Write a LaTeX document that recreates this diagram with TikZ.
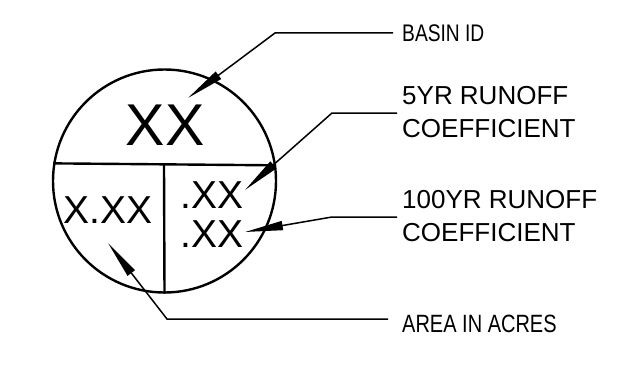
\documentclass[tikz,border=0pt]{standalone}
\usepackage{fontspec}
\setmainfont{Liberation Sans}
\newfontfamily\narrowfont{Liberation Sans}[FakeStretch=0.8]
\usetikzlibrary{arrows.meta}

\begin{document}
\begin{tikzpicture}[
    x=1pt, y=-1pt,
    ring/.style={circle, draw, line width=2.4pt, minimum size=223pt, inner sep=0pt},
    divider/.style={line width=2.4pt},
    val/.style={inner sep=0pt},
    lbl/.style={inner sep=0pt, align=left, font=\fontsize{26}{33}\selectfont},
    lead/.style={line width=1.5pt, -{Triangle[length=38pt, width=9pt]}}
]
\useasboundingbox (0,0) rectangle (624,369);

% Circle
\node[ring] (basin) at (164.5,181) {};
\coordinate (split) at (164,165);
\draw[divider] (basin.171.75) -- (basin.8.25);
\draw[divider] (split) -- (basin.south);

% Values
\node[val, anchor=base, font=\fontsize{59}{59}\selectfont] (idval) at (165,145) {XX};
\node[val, anchor=base west, font=\fontsize{39}{39}\selectfont] (areaval) at (63,223) {X.XX};
\node[val, anchor=base west, font=\fontsize{39}{39}\selectfont] (fiveval) at (180,208) {.XX};
\node[val, anchor=base west, font=\fontsize{39}{39}\selectfont] (hundredval) at (180,247) {.XX};

% Labels
\node[lbl, anchor=base west, font=\fontsize{24}{24}\narrowfont] (idlbl) at (402,42) {BASIN ID};
\node[lbl, anchor=west] (fivelbl) at (402,112.5) {5YR RUNOFF\\COEFFICIENT};
\node[lbl, anchor=west] (hundredlbl) at (402,216.5) {100YR RUNOFF\\COEFFICIENT};
\node[lbl, anchor=base west, font=\fontsize{25}{25}\narrowfont] (arealbl) at (402,332) {AREA IN ACRES};

% Leaders
\coordinate (idknee) at (275,33);
\coordinate (idtip) at (188,98);
\coordinate (fiveknee) at (332,113);
\coordinate (fivetip) at (245,190);
\coordinate (hundredknee) at (332,217);
\coordinate (hundredtip) at (245,232);
\coordinate (areaknee) at (167,319);
\coordinate (areatip) at (108,243);
\draw[lead, shorten <=9pt] (idknee -| idlbl.west) -- (idknee) -- (idtip);
\draw[lead, shorten <=5pt] (fiveknee -| fivelbl.west) -- (fiveknee) -- (fivetip);
\draw[lead, shorten <=5pt] (hundredknee -| hundredlbl.west) -- (hundredknee) -- (hundredtip);
\draw[lead, shorten <=14pt] (areaknee -| arealbl.west) -- (areaknee) -- (areatip);

\end{tikzpicture}
\end{document}
